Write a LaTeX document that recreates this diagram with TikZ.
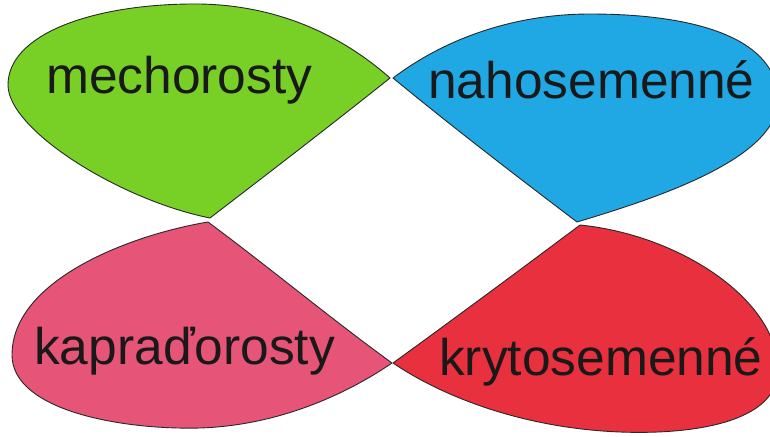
\documentclass[tikz,border=0pt]{standalone}
\usepackage{fontspec}
\setmainfont{Liberation Sans}
\definecolor{leafgreen}{RGB}{120,208,38}
\definecolor{leafblue}{RGB}{32,168,228}
\definecolor{leafpink}{RGB}{230,84,120}
\definecolor{leafred}{RGB}{232,48,62}
\definecolor{edgecol}{RGB}{40,40,40}
\tikzset{
  leaf/.style={draw=edgecol, line width=0.9pt, line join=round},
  label/.style={anchor=base west, inner sep=0pt, text=black!90,
    font=\fontsize{51.5}{60}\selectfont}
}
\begin{document}
\begin{tikzpicture}[x=1pt,y=-1pt]
\useasboundingbox (0,0) rectangle (770,436);
\fill[white] (0,0) rectangle (770,436);
\clip (0,0) rectangle (770,436);
% green leaf
\path[leaf, fill=leafgreen] (390,78) .. controls (330,25) and (260,3) .. (190,4)
  .. controls (90,5) and (8,35) .. (8,85)
  .. controls (8,130) and (120,200) .. (210,218)
  .. controls (270,172) and (335,122) .. (390,78) -- cycle;
% blue leaf
\path[leaf, fill=leafblue] (393,78) .. controls (450,35) and (520,14) .. (590,14)
  .. controls (700,14) and (778,40) .. (778,100)
  .. controls (778,160) and (650,200) .. (577,222)
  .. controls (515,175) and (450,125) .. (393,78) -- cycle;
% pink leaf
\path[leaf, fill=leafpink] (208,222) .. controls (130,235) and (12,280) .. (12,355)
  .. controls (12,410) and (120,430) .. (200,428)
  .. controls (290,425) and (360,385) .. (392,363)
  .. controls (330,318) and (270,268) .. (208,222) -- cycle;
% red leaf
\path[leaf, fill=leafred] (393,363) .. controls (455,318) and (520,270) .. (580,225)
  .. controls (680,235) and (778,300) .. (778,370)
  .. controls (778,420) and (700,435) .. (620,432)
  .. controls (520,428) and (440,395) .. (393,363) -- cycle;
\node[label] (mech) at (46,93) {mechorosty};
\node[label] (naho) at (428,98) {nahosemenné};
\node[label] (kapr) at (34,364) {kapraďorosty};
\node[label] (kryt) at (439,375) {krytosemenné};
\end{tikzpicture}
\end{document}
